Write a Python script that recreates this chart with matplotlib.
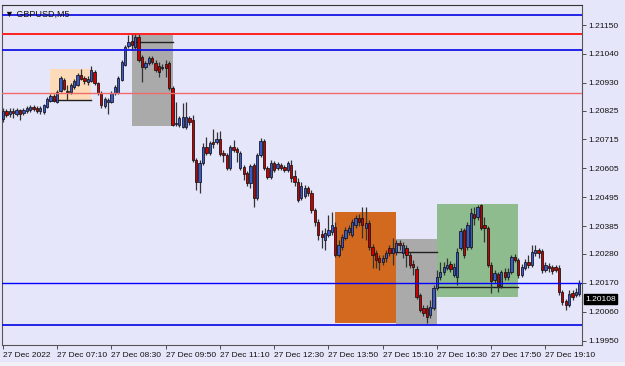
import matplotlib
matplotlib.use("Agg")
import matplotlib.pyplot as plt
from matplotlib.patches import Rectangle
import numpy as np

plt.rcParams['font.family'] = ['Liberation Sans', 'DejaVu Sans']

symbol = "GBPUSD,M5"

opens = [1.20793,1.20823,1.20812,1.20823,1.20812,1.20827,1.20816,1.20823,1.20827,1.20838,
         1.20835,1.20823,1.20819,1.20838,1.20861,1.20880,1.20857,1.20899,1.20941,1.20895,
         1.20895,1.20914,1.20922,1.20960,1.20949,1.20933,1.20937,1.20971,1.20930,1.20892,
         1.20842,1.20857,1.20857,1.20892,1.20892,1.20941,1.20998,1.21070,1.21089,1.21066,
         1.21104,1.21028,1.20990,1.21006,1.21025,1.21006,1.20994,1.20987,1.21002,1.21006,
         1.20911,1.20774,1.20770,1.20762,1.20762,1.20797,1.20789,1.20637,1.20553,1.20626,
         1.20686,1.20664,1.20705,1.20705,1.20717,1.20664,1.20656,1.20607,1.20686,1.20679,
         1.20607,1.20610,1.20588,1.20550,1.20618,1.20493,1.20656,1.20709,1.20607,1.20572,
         1.20626,1.20607,1.20618,1.20610,1.20599,1.20618,1.20576,1.20553,1.20493,1.20500,
         1.20531,1.20512,1.20447,1.20401,1.20356,1.20333,1.20352,1.20363,1.20382,1.20276,
         1.20306,1.20341,1.20363,1.20352,1.20390,1.20417,1.20417,1.20379,1.20398,1.20306,
         1.20284,1.20265,1.20249,1.20265,1.20303,1.20284,1.20287,1.20322,1.20284,1.20303,
         1.20276,1.20242,1.20223,1.20124,1.20075,1.20075,1.20048,1.20075,1.20151,1.20192,
         1.20211,1.20227,1.20242,1.20200,1.20192,1.20303,1.20371,1.20306,1.20306,1.20432,
         1.20420,1.20466,1.20390,1.20379,1.20238,1.20181,1.20204,1.20158,1.20211,1.20192,
         1.20211,1.20268,1.20257,1.20200,1.20227,1.20249,1.20238,1.20284,1.20295,1.20291,
         1.20219,1.20234,1.20230,1.20230,1.20227,1.20135,1.20101,1.20086,1.20132,1.20124,
         1.20128]
highs = [1.20835,1.20831,1.20835,1.20835,1.20835,1.20831,1.20835,1.20842,1.20846,1.20846,
         1.20842,1.20842,1.20850,1.20876,1.20888,1.20888,1.20903,1.20956,1.20949,1.20922,
         1.20930,1.20945,1.20968,1.20983,1.20956,1.20956,1.20994,1.20979,1.20933,1.20899,
         1.20876,1.20873,1.20899,1.20922,1.20956,1.21017,1.21074,1.21112,1.21116,1.21116,
         1.21116,1.21036,1.21013,1.21032,1.21032,1.21017,1.21009,1.21002,1.21017,1.21013,
         1.20918,1.20857,1.20804,1.20854,1.20857,1.20804,1.20808,1.20645,1.20637,1.20702,
         1.20724,1.20709,1.20755,1.20743,1.20747,1.20675,1.20664,1.20694,1.20713,1.20686,
         1.20671,1.20618,1.20595,1.20622,1.20626,1.20664,1.20721,1.20717,1.20614,1.20637,
         1.20633,1.20629,1.20626,1.20618,1.20633,1.20637,1.20599,1.20569,1.20553,1.20542,
         1.20538,1.20523,1.20455,1.20413,1.20371,1.20379,1.20428,1.20439,1.20401,1.20333,
         1.20356,1.20382,1.20390,1.20413,1.20428,1.20432,1.20458,1.20458,1.20409,1.20318,
         1.20295,1.20276,1.20276,1.20295,1.20314,1.20341,1.20333,1.20333,1.20325,1.20314,
         1.20287,1.20257,1.20234,1.20132,1.20086,1.20086,1.20105,1.20162,1.20219,1.20249,
         1.20249,1.20265,1.20253,1.20246,1.20303,1.20379,1.20379,1.20401,1.20455,1.20458,
         1.20466,1.20470,1.20420,1.20386,1.20249,1.20219,1.20211,1.20219,1.20227,1.20227,
         1.20276,1.20280,1.20265,1.20242,1.20261,1.20276,1.20314,1.20314,1.20303,1.20299,
         1.20249,1.20246,1.20238,1.20238,1.20238,1.20143,1.20109,1.20143,1.20143,1.20151,
         1.20181]
lows = [1.20781,1.20800,1.20800,1.20797,1.20804,1.20789,1.20808,1.20816,1.20819,1.20823,
        1.20816,1.20812,1.20812,1.20835,1.20857,1.20857,1.20854,1.20895,1.20903,1.20865,
        1.20888,1.20907,1.20918,1.20941,1.20926,1.20922,1.20933,1.20922,1.20884,1.20835,
        1.20835,1.20812,1.20854,1.20884,1.20888,1.20937,1.20994,1.21063,1.21055,1.21059,
        1.21009,1.20933,1.20983,1.20998,1.21002,1.20971,1.20952,1.20979,1.20952,1.20903,
        1.20766,1.20766,1.20762,1.20759,1.20755,1.20770,1.20629,1.20523,1.20512,1.20618,
        1.20656,1.20656,1.20683,1.20698,1.20652,1.20629,1.20599,1.20599,1.20667,1.20629,
        1.20599,1.20561,1.20538,1.20531,1.20458,1.20485,1.20648,1.20599,1.20565,1.20565,
        1.20591,1.20599,1.20599,1.20591,1.20591,1.20553,1.20538,1.20477,1.20485,1.20493,
        1.20500,1.20436,1.20386,1.20333,1.20303,1.20295,1.20344,1.20352,1.20268,1.20268,
        1.20295,1.20333,1.20352,1.20344,1.20379,1.20386,1.20341,1.20333,1.20295,1.20227,
        1.20227,1.20219,1.20238,1.20249,1.20272,1.20238,1.20276,1.20295,1.20265,1.20230,
        1.20227,1.20200,1.20109,1.20059,1.20044,1.20018,1.20037,1.20067,1.20143,1.20181,
        1.20200,1.20219,1.20211,1.20192,1.20162,1.20295,1.20265,1.20295,1.20299,1.20390,
        1.20409,1.20371,1.20325,1.20230,1.20132,1.20170,1.20135,1.20151,1.20181,1.20181,
        1.20204,1.20249,1.20189,1.20192,1.20219,1.20227,1.20230,1.20272,1.20265,1.20208,
        1.20211,1.20211,1.20204,1.20211,1.20124,1.20086,1.20067,1.20078,1.20105,1.20116,
        1.20120]
closes = [1.20823,1.20808,1.20823,1.20816,1.20827,1.20812,1.20827,1.20835,1.20838,1.20831,
          1.20823,1.20835,1.20846,1.20869,1.20880,1.20861,1.20895,1.20949,1.20907,1.20899,
          1.20922,1.20937,1.20960,1.20945,1.20937,1.20945,1.20979,1.20930,1.20892,1.20846,
          1.20869,1.20865,1.20892,1.20914,1.20949,1.21009,1.21066,1.21085,1.21074,1.21104,
          1.21017,1.20990,1.21006,1.21025,1.21009,1.20979,1.20971,1.20990,1.20987,1.20911,
          1.20770,1.20778,1.20797,1.20800,1.20800,1.20781,1.20637,1.20553,1.20626,1.20686,
          1.20664,1.20702,1.20698,1.20717,1.20660,1.20656,1.20607,1.20686,1.20675,1.20667,
          1.20664,1.20584,1.20550,1.20614,1.20493,1.20656,1.20709,1.20607,1.20572,1.20626,
          1.20599,1.20622,1.20607,1.20599,1.20626,1.20569,1.20553,1.20485,1.20538,1.20531,
          1.20512,1.20447,1.20401,1.20352,1.20344,1.20360,1.20371,1.20390,1.20276,1.20314,
          1.20344,1.20371,1.20379,1.20401,1.20417,1.20401,1.20390,1.20398,1.20306,1.20276,
          1.20257,1.20249,1.20265,1.20284,1.20284,1.20303,1.20322,1.20314,1.20314,1.20276,
          1.20238,1.20230,1.20116,1.20067,1.20056,1.20040,1.20078,1.20151,1.20192,1.20211,
          1.20230,1.20238,1.20223,1.20230,1.20287,1.20367,1.20276,1.20390,1.20436,1.20417,
          1.20458,1.20379,1.20379,1.20238,1.20177,1.20208,1.20158,1.20211,1.20192,1.20211,
          1.20268,1.20257,1.20200,1.20230,1.20249,1.20238,1.20287,1.20295,1.20284,1.20219,
          1.20238,1.20227,1.20215,1.20219,1.20135,1.20097,1.20086,1.20128,1.20116,1.20135,
          1.20170]

last_price = 1.20108

tick_bars = [0, 16, 32, 48, 64, 80, 96, 112, 128, 144, 160]
tick_labels = ["27 Dec 2022", "27 Dec 07:10", "27 Dec 08:30", "27 Dec 09:50",
               "27 Dec 11:10", "27 Dec 12:30", "27 Dec 13:50", "27 Dec 15:10",
               "27 Dec 16:30", "27 Dec 17:50", "27 Dec 19:10"]
price_ticks = [1.21150, 1.21040, 1.20930, 1.20825, 1.20715, 1.20605,
               1.20495, 1.20385, 1.20280, 1.20170, 1.20060, 1.19950]

# horizontal levels
hline_prices = [1.21188, 1.21116, 1.21055, 1.20890, 1.20170, 1.20010]
hline_colors = ['#1414E6', '#FF2020', '#1414E6', '#F06A6A', '#0000FF', '#1414E6']
hline_widths = [1.3, 1.4, 1.3, 1.0, 1.0, 1.3]

# zones (bar start, bar end, low, high, colour, inner line)
zone_start = [14, 38, 98, 116, 128]
zone_end = [26, 50, 116, 128, 152]
zone_low = [1.20865, 1.20766, 1.20018, 1.20010, 1.20116]
zone_high = [1.20983, 1.21112, 1.20439, 1.20337, 1.20470]
zone_colors = ['#FDDAB8', '#AAAAAA', '#D2691E', '#AAAAAA', '#8FBC8F']
zone_line = [1.20865, 1.21085, None, 1.20287, 1.20154]

bg = '#E6E6FA'
fig = plt.figure(figsize=(6.25, 3.66), dpi=100, facecolor=bg)
ax = fig.add_axes([2/625, 21/366, 580/625, 340/366])
ax.set_facecolor(bg)

n = len(closes)
x = np.arange(n)
o = np.array(opens); c = np.array(closes); h = np.array(highs); l = np.array(lows)

for s, e, lo, hi, col, ln in zip(zone_start, zone_end, zone_low, zone_high, zone_colors, zone_line):
    ax.add_patch(Rectangle((s, lo), e - s, hi - lo, facecolor=col, edgecolor='none', zorder=1))
    if ln is not None:
        ax.plot([s, e], [ln, ln], color='#202020', lw=1.0, zorder=1.5)

ax.vlines(x, l, h, color='#333333', lw=0.9, zorder=2)
up = c >= o
body_bottom = np.minimum(o, c)
body_h = np.maximum(np.abs(c - o), 0.000015)
ax.bar(x[up], body_h[up], bottom=body_bottom[up], width=0.68, color='#3A5BD0',
       edgecolor='#111111', linewidth=0.55, zorder=3)
ax.bar(x[~up], body_h[~up], bottom=body_bottom[~up], width=0.68, color='#C80000',
       edgecolor='#111111', linewidth=0.55, zorder=3)

for p, col, w in zip(hline_prices, hline_colors, hline_widths):
    ax.axhline(p, color=col, lw=w, zorder=4)

ax.set_xlim(-0.3, 170.8)
ax.set_ylim(1.19934, 1.21226)

ax.yaxis.tick_right()
ax.set_yticks(price_ticks)
ax.set_yticklabels([f"{v:.5f}" for v in price_ticks])
ax.set_xticks(tick_bars)
ax.set_xticklabels(tick_labels)
for t in ax.get_xticklabels():
    t.set_ha('left')
ax.tick_params(axis='both', labelsize=6, length=3, width=0.6, color='#333333', pad=2, labelcolor='#111111')
ax.tick_params(axis='y', pad=1.5)
for sp in ax.spines.values():
    sp.set_color('#555555'); sp.set_linewidth(0.8)
ax.spines['top'].set_color('#333333')

ax.text(0.006, 0.985, "\u25bc " + symbol, transform=ax.transAxes, fontsize=6.5,
        va='top', ha='left', color='#111111', zorder=5,
        family=['Liberation Sans', 'DejaVu Sans'])

ax.annotate(f"{last_price:.5f}", xy=(1.0, last_price), xycoords=('axes fraction', 'data'),
            xytext=(2.5, 0), textcoords='offset points', fontsize=6, color='white',
            va='center', ha='left',
            bbox=dict(boxstyle='square,pad=0.15', fc='black', ec='black'), zorder=6,
            annotation_clip=False)

fig.patches.append(Rectangle((0, 0), 1, 4/366, transform=fig.transFigure,
                             facecolor='#F0F0F6', edgecolor='none', zorder=0))

fig.savefig("out.png", dpi=100, facecolor=bg)
